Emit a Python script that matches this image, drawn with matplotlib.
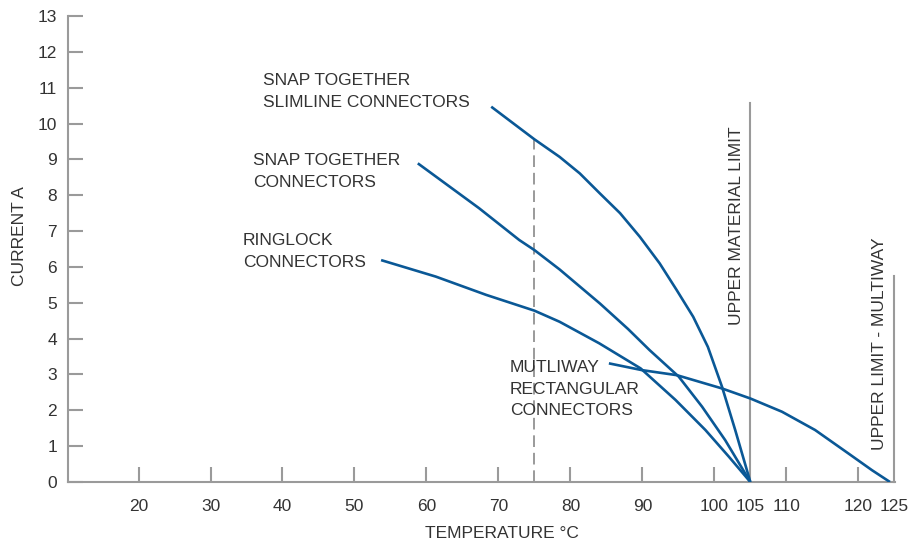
import matplotlib
matplotlib.use("Agg")
import matplotlib.pyplot as plt

plt.rcParams['font.family'] = ['Liberation Sans', 'DejaVu Sans']

# ---- data ----
slim_x = [69.0, 75.0, 78.5, 81.3, 84.1, 86.9, 89.65, 92.4, 94.75, 97.06, 99.1, 101.06, 102.9, 105.0]
slim_y = [10.47, 9.56, 9.07, 8.61, 8.05, 7.50, 6.84, 6.10, 5.36, 4.61, 3.77, 2.66, 1.45, 0.0]

snap_x = [58.8, 67.3, 72.9, 75.0, 78.5, 84.1, 88.0, 91.0, 95.05, 98.3, 101.5, 105.0]
snap_y = [8.89, 7.64, 6.75, 6.47, 5.93, 4.98, 4.27, 3.68, 2.94, 2.10, 1.17, 0.0]

ring_x = [53.7, 61.3, 68.3, 75.0, 78.5, 84.0, 89.75, 94.6, 98.76, 102.0, 105.0]
ring_y = [6.19, 5.73, 5.22, 4.78, 4.47, 3.87, 3.17, 2.29, 1.45, 0.71, 0.0]

multi_x = [85.35, 89.97, 94.8, 101.06, 105.0, 109.4, 114.0, 118.6, 121.9, 124.4]
multi_y = [3.31, 3.12, 2.98, 2.61, 2.33, 1.96, 1.45, 0.80, 0.33, 0.0]

xticks = [20, 30, 40, 50, 60, 70, 80, 90, 100, 105, 110, 120, 125]
xtick_marks = [20, 30, 40, 50, 60, 70, 80, 90, 100, 110, 120]
yticks = list(range(0, 14))

material_limit_x = 105
material_limit_top = 10.57
multiway_limit_x = 125
multiway_limit_top = 5.75
dashed_x = 75
dashed_top = 9.55

BLUE = '#0a5896'
GRAY = '#9a9a9a'
TXT = '#333333'
FS = 12.5

fig = plt.figure(figsize=(9.09, 5.42), dpi=100)
ax = fig.add_axes([68/909, 60/542, (895-68)/909, 466/542])
ax.set_xlim(10.2, 125.1)
ax.set_ylim(0, 13)

for s in ['top', 'right']:
    ax.spines[s].set_visible(False)
for s in ['left', 'bottom']:
    ax.spines[s].set_color(GRAY)
    ax.spines[s].set_linewidth(1.5)

ax.set_yticks(yticks)
ax.set_yticklabels([str(v) for v in yticks])
ax.tick_params(axis='y', direction='in', length=11, width=1.5, color=GRAY,
               labelsize=FS, labelcolor=TXT, pad=8)

# x tick labels (no tick marks) + separate tick marks
ax.set_xticks(xticks)
ax.set_xticklabels([str(v) for v in xticks])
ax.tick_params(axis='x', direction='in', length=0, labelsize=FS,
               labelcolor=TXT, pad=12)
for xm in xtick_marks:
    ax.plot([xm, xm], [0, 0.43], color=GRAY, lw=1.5, solid_capstyle='butt',
            clip_on=False, zorder=1)

# reference lines
ax.plot([dashed_x, dashed_x], [0, dashed_top], color=GRAY, lw=1.4,
        dashes=(6, 3), zorder=1)
ax.plot([material_limit_x, material_limit_x], [0, material_limit_top],
        color=GRAY, lw=1.5, zorder=1)
ax.plot([multiway_limit_x, multiway_limit_x], [0, multiway_limit_top],
        color=GRAY, lw=1.5, zorder=1, clip_on=False)

# curves
for xs, ys in [(slim_x, slim_y), (snap_x, snap_y), (ring_x, ring_y), (multi_x, multi_y)]:
    ax.plot(xs, ys, color=BLUE, lw=1.9, zorder=3, solid_joinstyle='round',
            solid_capstyle='butt')

# annotations
ax.text(37.3, 10.89, 'SNAP TOGETHER\nSLIMLINE CONNECTORS', fontsize=FS, color=TXT,
        ha='left', va='center', linespacing=1.6)
ax.text(35.9, 8.67, 'SNAP TOGETHER\nCONNECTORS', fontsize=FS, color=TXT,
        ha='left', va='center', linespacing=1.6)
ax.text(34.5, 6.44, 'RINGLOCK\nCONNECTORS', fontsize=FS, color=TXT,
        ha='left', va='center', linespacing=1.6)
ax.text(71.6, 2.59, 'MUTLIWAY\nRECTANGULAR\nCONNECTORS', fontsize=FS, color=TXT,
        ha='left', va='center', linespacing=1.55)
ax.text(103.1, 7.14, 'UPPER MATERIAL LIMIT', fontsize=FS, color=TXT,
        rotation=90, ha='center', va='center')
ax.text(123.0, 3.85, 'UPPER LIMIT - MULTIWAY', fontsize=FS, color=TXT,
        rotation=90, ha='center', va='center')

# axis titles
fig.text(20/909, 1 - 236/542, 'CURRENT A', fontsize=FS, color=TXT,
         rotation=90, ha='center', va='center')
fig.text(501.5/909, 1 - 533/542, 'TEMPERATURE °C', fontsize=FS, color=TXT,
         ha='center', va='center')

fig.savefig('out.png', dpi=100)
